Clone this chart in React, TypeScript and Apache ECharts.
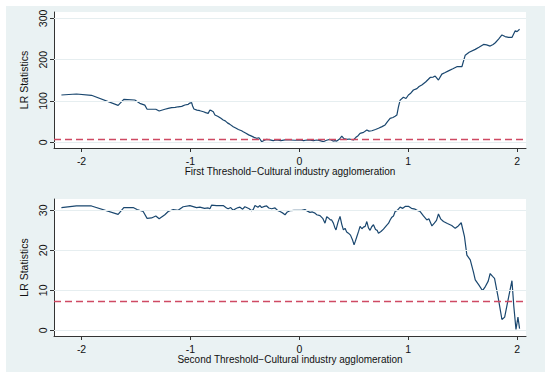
import React, { useEffect, useRef } from "react";
import * as echarts from "echarts";

const xTicks = [-2, -1, 0, 1, 2];
const topYTicks = [0, 100, 200, 300];
const bottomYTicks = [0, 10, 20, 30];
const criticalValue = 7.35;

const topX = [
  -2.185, -2.047, -1.909, -1.664, -1.612, -1.511, -1.465, -1.419, -1.398, -1.318, -1.287, -1.235, -1.204, -1.173, -1.14, -1.113,
  -1.08, -1.051, -1.02, -1.005, -0.989, -0.98, -0.968, -0.94, -0.913, -0.88, -0.86, -0.837, -0.821, -0.806, -0.79, -0.775, -0.75,
  -0.72, -0.699, -0.68, -0.66, -0.64, -0.607, -0.58, -0.56, -0.53, -0.515, -0.49, -0.465, -0.438, -0.415, -0.392, -0.37, -0.346,
  -0.32, -0.3, -0.27, -0.24, -0.208, -0.17, -0.13, -0.086, -0.04, 0.006, 0.04, 0.068, 0.1, 0.13, 0.16, 0.19, 0.22, 0.25, 0.282,
  0.31, 0.328, 0.344, 0.37, 0.39, 0.41, 0.436, 0.46, 0.497, 0.52, 0.54, 0.558, 0.59, 0.62, 0.64, 0.666, 0.7, 0.727, 0.76, 0.788,
  0.81, 0.834, 0.86, 0.88, 0.896, 0.91, 0.926, 0.956, 0.98, 1.002, 1.02, 1.048, 1.08, 1.1, 1.125, 1.16, 1.202, 1.23, 1.248,
  1.278, 1.309, 1.34, 1.37, 1.41, 1.447, 1.493, 1.524, 1.56, 1.616, 1.65, 1.692, 1.72, 1.753, 1.78, 1.8, 1.83, 1.861, 1.89,
  1.922, 1.953, 1.983, 2.0, 2.023,
];
const topY = [
  114.5, 117, 113.8, 89.5, 104, 102.4, 94.4, 90, 80, 80, 75.8, 80, 82, 83.8, 84.5, 86,
  87, 90.3, 92, 95, 96, 88, 80.6, 78, 76.5, 74, 72, 70, 78, 76.6, 74, 66, 63,
  58, 54, 52, 47, 44, 37.8, 34, 31, 28, 25.7, 22, 18, 15, 12, 9.7, 11, 1.5,
  5, 7, 6, 4, 5.6, 4, 6, 5.6, 5, 5.6, 4, 5.6, 5, 4, 5.6, 4, 1.5, 5, 7,
  3, 4, 3, 8, 15, 9, 7, 8, 5.6, 12, 16, 21.8, 24, 29.8, 27, 28, 31, 34, 38, 42,
  50, 58, 60, 63, 66, 85, 102, 109, 106, 114.5, 118, 126.6, 130, 135, 138.7, 146, 157, 158, 160.5,
  150.8, 165, 169, 173, 178, 183, 183, 211, 218, 225, 230, 237, 236, 233, 237, 241, 250, 260, 256,
  254, 254, 270, 268, 273.6,
];

const bottomX = [
  -2.185, -2.047, -1.909, -1.664, -1.612, -1.526, -1.49, -1.434, -1.398, -1.357, -1.318, -1.287, -1.235, -1.204, -1.158, -1.113,
  -1.067, -1.005, -0.944, -0.913, -0.87, -0.837, -0.821, -0.806, -0.76, -0.729, -0.699, -0.668, -0.653, -0.63, -0.607, -0.585,
  -0.561, -0.545, -0.52, -0.5, -0.484, -0.46, -0.438, -0.423, -0.407, -0.38, -0.361, -0.346, -0.32, -0.3, -0.28, -0.254, -0.223,
  -0.2, -0.177, -0.15, -0.131, -0.11, -0.086, -0.05, -0.024, 0.02, 0.052, 0.075, 0.098, 0.12, 0.144, 0.16, 0.19, 0.215, 0.236,
  0.252, 0.267, 0.285, 0.297, 0.313, 0.325, 0.337, 0.355, 0.374, 0.39, 0.405, 0.42, 0.435, 0.451, 0.47, 0.49, 0.503, 0.515,
  0.528, 0.545, 0.558, 0.575, 0.589, 0.605, 0.62, 0.635, 0.65, 0.665, 0.681, 0.7, 0.715, 0.727, 0.75, 0.773, 0.8, 0.82, 0.834,
  0.85, 0.865, 0.88, 0.9, 0.926, 0.95, 0.975, 1.002, 1.03, 1.064, 1.09, 1.11, 1.14, 1.171, 1.19, 1.218, 1.24, 1.26, 1.278, 1.3,
  1.324, 1.36, 1.4, 1.432, 1.46, 1.487, 1.517, 1.539, 1.57, 1.6, 1.616, 1.65, 1.683, 1.71, 1.735, 1.753, 1.775, 1.793, 1.825,
  1.861, 1.886, 1.92, 1.953, 1.97, 1.99, 2.008, 2.023,
];
const bottomY = [
  30.7, 31.1, 31.1, 29.0, 30.7, 30.7, 30.2, 29.7, 28.0, 28.1, 28.6, 27.9, 28.9, 29.7, 30.2, 30.0,
  30.9, 31.2, 30.7, 30.8, 30.5, 30.6, 30.4, 31.3, 31.2, 31.2, 31.2, 30.6, 30.4, 30.7, 30.0, 30.4,
  30.7, 30.8, 30.3, 30.9, 30.7, 30.4, 29.9, 30.2, 31.2, 30.8, 31.2, 30.7, 31.0, 31.1, 30.6, 30.4, 30.6,
  30.0, 29.7, 29.3, 28.9, 29.6, 29.9, 30.0, 30.0, 30.0, 30.2, 29.8, 29.5, 29.6, 29.3, 28.9, 28.7, 28.0, 26.8,
  28.4, 28.1, 27.6, 27.6, 26.8, 25.8, 25.1, 27.0, 28.5, 26.5, 25.1, 25.5, 24.6, 24.3, 23.8, 22.5, 21.4, 22.3,
  23.4, 24.8, 26.0, 25.4, 25.8, 26.0, 27.2, 25.6, 25.0, 25.9, 26.4, 25.2, 25.0, 24.3, 24.7, 25.3, 26.2, 26.8, 27.6,
  28.3, 28.6, 29.7, 30.0, 30.8, 30.5, 31.0, 31.0, 30.5, 30.3, 29.9, 29.7, 28.6, 27.6, 27.9, 26.1, 26.8, 27.5, 29.1, 27.8,
  27.2, 26.7, 26.2, 25.5, 26.1, 26.9, 23.4, 18.8, 17.6, 14.5, 12.6, 11.3, 9.9, 11.0, 12.3, 14.2, 13.5, 13.0, 8.4,
  2.7, 3.3, 8.0, 12.4, 6.0, 0.2, 3.3, 0.4,
];

const topTitle = "First Threshold\u2212Cultural industry agglomeration";
const bottomTitle = "Second Threshold\u2212Cultural industry agglomeration";
const yTitle = "LR Statistics";

const FONT = "Liberation Sans, Arial, sans-serif";
const NAVY = "#1a476f";
const RED = "#cf4a63";
const GRID = "#e6eef0";
const AXIS = "#333";

function zip(xs: number[], ys: number[]) {
  return xs.map((x, i) => [x, ys[i]]);
}

function xAxisCfg(gridIndex: number, title: string) {
  return {
    type: "value",
    gridIndex,
    min: -2.253,
    max: 2.082,
    name: title,
    nameLocation: "middle",
    nameGap: 18,
    nameTextStyle: { fontFamily: FONT, fontSize: 10, color: "#111" },
    axisLine: { show: true, onZero: false, lineStyle: { color: AXIS, width: 1 } },
    axisTick: { show: true, length: 4, customValues: xTicks, lineStyle: { color: AXIS } },
    axisLabel: { customValues: xTicks, margin: 7, fontFamily: FONT, fontSize: 10.5, color: "#111" },
    splitLine: { show: false },
  };
}

function yAxisCfg(gridIndex: number, min: number, max: number, ticks: number[]) {
  return {
    type: "value",
    gridIndex,
    min,
    max,
    name: yTitle,
    nameLocation: "middle",
    nameRotate: 90,
    nameGap: 19,
    nameTextStyle: { fontFamily: FONT, fontSize: 10.5, color: "#111" },
    axisLine: { show: true, onZero: false, lineStyle: { color: AXIS, width: 1 } },
    axisTick: { show: true, length: 4, customValues: ticks, lineStyle: { color: AXIS } },
    axisLabel: { customValues: ticks, rotate: 90, margin: 6, fontFamily: FONT, fontSize: 10.5, color: "#111" },
    splitLine: { show: false },
  };
}

function seriesCfg(idx: number, xs: number[], ys: number[], ticks: number[]) {
  return [
    {
      type: "line",
      xAxisIndex: idx,
      yAxisIndex: idx,
      data: [],
      silent: true,
      z: 1,
      markLine: {
        silent: true,
        symbol: ["none", "none"],
        label: { show: false },
        lineStyle: { color: GRID, type: "solid", width: 1 },
        data: ticks.map((t) => ({ yAxis: t })),
      },
    },
    {
      type: "line",
      xAxisIndex: idx,
      yAxisIndex: idx,
      data: zip(xs, ys),
      showSymbol: false,
      symbol: "none",
      lineStyle: { color: NAVY, width: 1.2 },
      z: 3,
      markLine: {
        silent: true,
        symbol: ["none", "none"],
        label: { show: false },
        lineStyle: { color: RED, type: [7, 4], width: 1.4 },
        data: [{ yAxis: criticalValue }],
      },
    },
  ];
}

export default function App() {
  const ref = useRef<HTMLDivElement>(null);
  useEffect(() => {
    document.body.style.margin = "0";
    if (!ref.current) return;
    const chart = echarts.init(ref.current, undefined, { renderer: "svg" });
    chart.setOption({
      animation: false,
      grid: [
        { left: 54, right: 24, top: 12, height: 136, show: true, backgroundColor: "#fff", borderWidth: 0 },
        { left: 54, right: 24, top: 199, height: 137, show: true, backgroundColor: "#fff", borderWidth: 0 },
      ],
      xAxis: [xAxisCfg(0, topTitle), xAxisCfg(1, bottomTitle)],
      yAxis: [yAxisCfg(0, -13.8, 315.5, topYTicks), yAxisCfg(1, -1.43, 32.84, bottomYTicks)],
      series: [...seriesCfg(0, topX, topY, topYTicks), ...seriesCfg(1, bottomX, bottomY, bottomYTicks)],
    });
    return () => chart.dispose();
  }, []);
  return (
    <div style={{ position: "relative", width: 550, height: 379, background: "#fff" }}>
      <div style={{ position: "absolute", left: 6, top: 6, width: 539, height: 366, background: "#eaf2f3" }} />
      <div ref={ref} style={{ position: "absolute", left: 0, top: 0, width: 550, height: 379 }} />
    </div>
  );
}
